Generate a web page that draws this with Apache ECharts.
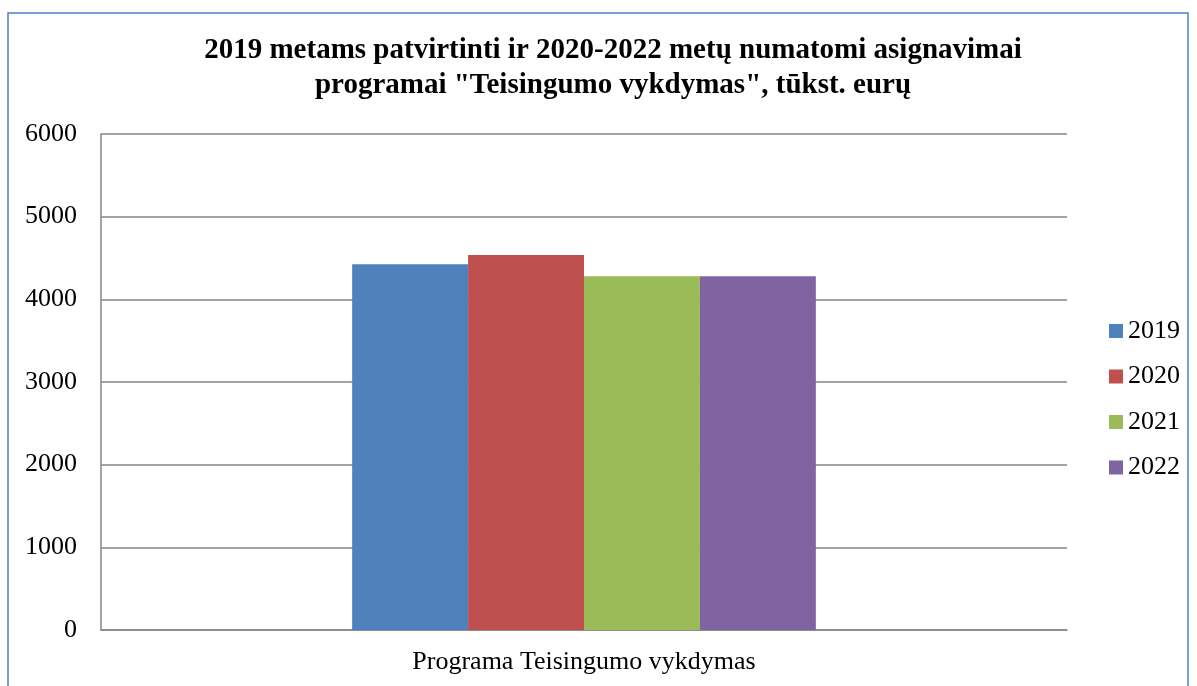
<!DOCTYPE html>
<html>
<head>
<meta charset="utf-8">
<script src="https://cdn.jsdelivr.net/npm/echarts@6/dist/echarts.min.js"></script>
<style>
  html, body { margin: 0; padding: 0; background: #fff; }
  #chart { width: 1197px; height: 686px; }
</style>
</head>
<body>
<div id="chart"></div>
<script>
// duomenys
var categories = ['Programa Teisingumo vykdymas'];
var years = ['2019', '2020', '2021', '2022'];
var values = [4425, 4535, 4280, 4280];
var colors = ['#4f81bd', '#c0504d', '#9bbb59', '#8064a2'];
var yTicks = [0, 1000, 2000, 3000, 4000, 5000, 6000];

var font = '"Liberation Serif", "Times New Roman", serif';

var series = years.map(function (y, i) {
    return {
        name: y,
        type: 'bar',
        data: [values[i]],
        barGap: '0%',
        barCategoryGap: '52%',
        itemStyle: { color: colors[i] }
    };
});

var chart = echarts.init(document.getElementById('chart'), null, { renderer: 'canvas' });
chart.setOption({
    animation: false,
    textStyle: { fontFamily: font },
    graphic: [{
        type: 'rect',
        shape: { x: 8, y: 13, width: 1180, height: 700 },
        style: { fill: 'none', stroke: '#4f81bd', lineWidth: 1.5 },
        silent: true
    }],
    title: {
        text: '2019 metams patvirtinti ir 2020-2022 metų numatomi asignavimai\nprogramai "Teisingumo vykdymas", tūkst. eurų',
        left: 608,
        textAlign: 'center',
        top: 28,
        textStyle: {
            fontFamily: font,
            fontWeight: 'bold',
            fontSize: 29,
            lineHeight: 35,
            color: '#000'
        }
    },
    legend: {
        orient: 'vertical',
        left: 1104,
        top: 313,
        itemWidth: 14,
        itemHeight: 14,
        itemGap: 19.5,
        icon: 'rect',
        textStyle: { fontFamily: font, fontSize: 26, lineHeight: 26, color: '#000' },
        data: years
    },
    grid: {
        left: 101,
        right: 130,
        top: 134,
        bottom: 56,
        containLabel: false
    },
    xAxis: {
        type: 'category',
        data: categories,
        axisLine: { show: true, lineStyle: { color: '#868686', width: 1.5 } },
        axisTick: { show: false },
        axisLabel: { fontFamily: font, fontSize: 26, color: '#000', margin: 19 }
    },
    yAxis: {
        type: 'value',
        min: yTicks[0],
        max: yTicks[yTicks.length - 1],
        interval: 1000,
        axisLine: { show: true, lineStyle: { color: '#868686', width: 1.5 } },
        axisTick: { show: false },
        splitLine: { show: true, lineStyle: { color: '#868686', width: 1.5 } },
        axisLabel: {
            fontFamily: font, fontSize: 26, color: '#000', margin: 24,
            formatter: function (v) { return String(v); }
        }
    },
    series: series
});
</script>
</body>
</html>
